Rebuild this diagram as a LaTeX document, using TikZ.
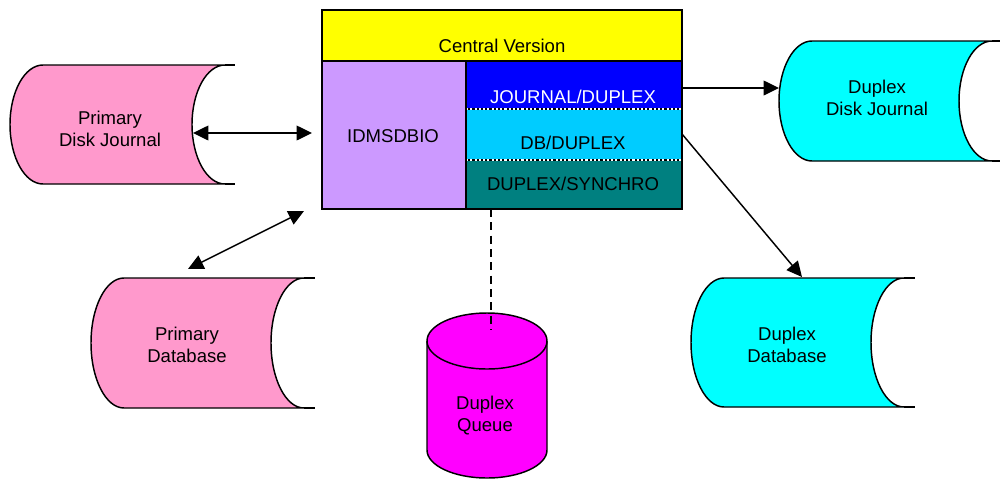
\documentclass[tikz,border=0pt]{standalone}
\usepackage{fontspec}
\setmainfont{Liberation Sans}
\usetikzlibrary{arrows.meta}
\definecolor{pinkc}{HTML}{FF99CC}
\definecolor{cyanc}{HTML}{00FFFF}
\definecolor{lav}{HTML}{CC99FF}
\definecolor{skyc}{HTML}{00CCFF}
\definecolor{tealc}{HTML}{008080}
\definecolor{magc}{HTML}{FF00FF}
\definecolor{yelc}{HTML}{FFFF00}
\definecolor{bluec}{HTML}{0000FF}
% #1 colour, #2 leftmost x, #3 top y, #4 bottom y, #5 right arc leftmost x, #6 line end x, #7 arc x radius
\newcommand\HCyl[7]{%
  \pgfmathsetmacro\cylry{(#4-#3)/2*0.75}%
  \pgfmathsetmacro\cylrx{#7*0.75}%
  \filldraw[fill=#1,cylline] ({#2+#7},#3) -- ({#5+#7},#3)
    arc[start angle=90,end angle=270,x radius=\cylrx pt,y radius=\cylry pt]
    -- ({#2+#7},#4)
    arc[start angle=270,end angle=90,x radius=\cylrx pt,y radius=\cylry pt] -- cycle;
  \draw[cylline] ({#5+#7},#3) -- (#6,#3) ({#5+#7},#4) -- (#6,#4);
}
\tikzset{
  cylline/.style={line width=1.1pt,draw=black},
  lbl/.style={align=center,inner sep=0pt,font=\fontsize{13.9pt}{16.5pt}\selectfont},
  boxline/.style={line width=1.6pt,draw=black},
  conn/.style={line width=1.1pt},
  tip/.style={-{Triangle[length=11.5pt,width=11pt]}},
  dtip/.style={{Triangle[length=11.5pt,width=11pt]}-{Triangle[length=11.5pt,width=11pt]}}
}
\begin{document}
\begin{tikzpicture}[x=0.75pt,y=-0.75pt]
\useasboundingbox (0,0) rectangle (1000,479);
% cylinders
\HCyl{pinkc}{10}{65}{184}{192}{235}{33}
\node[lbl] (pdj) at (110,129) {Primary\\Disk Journal};
\HCyl{pinkc}{91}{278}{408}{271}{315}{33}
\node[lbl] (pdb) at (187,345) {Primary\\Database};
\HCyl{cyanc}{779}{41}{161}{959}{1002}{33}
\node[lbl] (ddj) at (877,98) {Duplex\\Disk Journal};
\HCyl{cyanc}{691}{278}{407}{871}{915}{33}
\node[lbl] (ddb) at (787,345) {Duplex\\Database};
% vertical cylinder
\filldraw[fill=magc,cylline] (427,341) -- (427,450)
  arc[start angle=180,end angle=360,x radius=45pt,y radius=21pt] -- (547,341)
  arc[start angle=0,end angle=180,x radius=45pt,y radius=21pt] -- cycle;
\draw[cylline] (427,341) arc[start angle=180,end angle=360,x radius=45pt,y radius=21pt];
\node[lbl] (dq) at (485,416) {Duplex\\Queue};
% central box
\fill[yelc] (322,10) rectangle (682,61);
\fill[lav] (322,61) rectangle (466,209);
\fill[bluec] (466,61) rectangle (682,109);
\fill[skyc] (466,109) rectangle (682,160);
\fill[tealc] (466,160) rectangle (682,209);
\draw[line width=1.4pt,black] (466,109) -- (682,109) (466,160) -- (682,160);
\draw[line width=1.4pt,white,dash pattern=on 1.6pt off 1.6pt] (466,109) -- (682,109) (466,160) -- (682,160);
\draw[boxline] (322,61) -- (682,61) (466,61) -- (466,209);
\draw[boxline] (322,10) rectangle (682,209);
\node[lbl] (cv) at (502,46) {Central Version};
\node[lbl] (idms) at (393,136) {IDMSDBIO};
\node[lbl,text=white] (jd) at (573,97) {JOURNAL/DUPLEX};
\node[lbl] (dbd) at (573,143) {DB/DUPLEX};
\node[lbl] (dsy) at (573,184) {DUPLEX/SYNCHRO};
% connector end points
\coordinate (pdjR) at (193,133);
\coordinate (cvL) at (312,133);
\coordinate (pdbT) at (188,269);
\coordinate (cvBL) at (304,211);
\coordinate (jdR) at (682,88);
\coordinate (ddjL) at (779,88);
\coordinate (dbR) at (682,134);
\coordinate (ddbT) at (802,277);
\coordinate (dsB) at (491,209);
\coordinate (dqT) at (491,330);
% connectors
\draw[conn,dtip] (pdjR) -- (cvL);
\draw[conn,dtip] (pdbT) -- (cvBL);
\draw[conn,tip] (jdR) -- (ddjL);
\draw[conn,tip] (dbR) -- (ddbT);
\draw[line width=1.6pt,dash pattern=on 6pt off 4pt] (dsB) -- (dqT);
\end{tikzpicture}
\end{document}
